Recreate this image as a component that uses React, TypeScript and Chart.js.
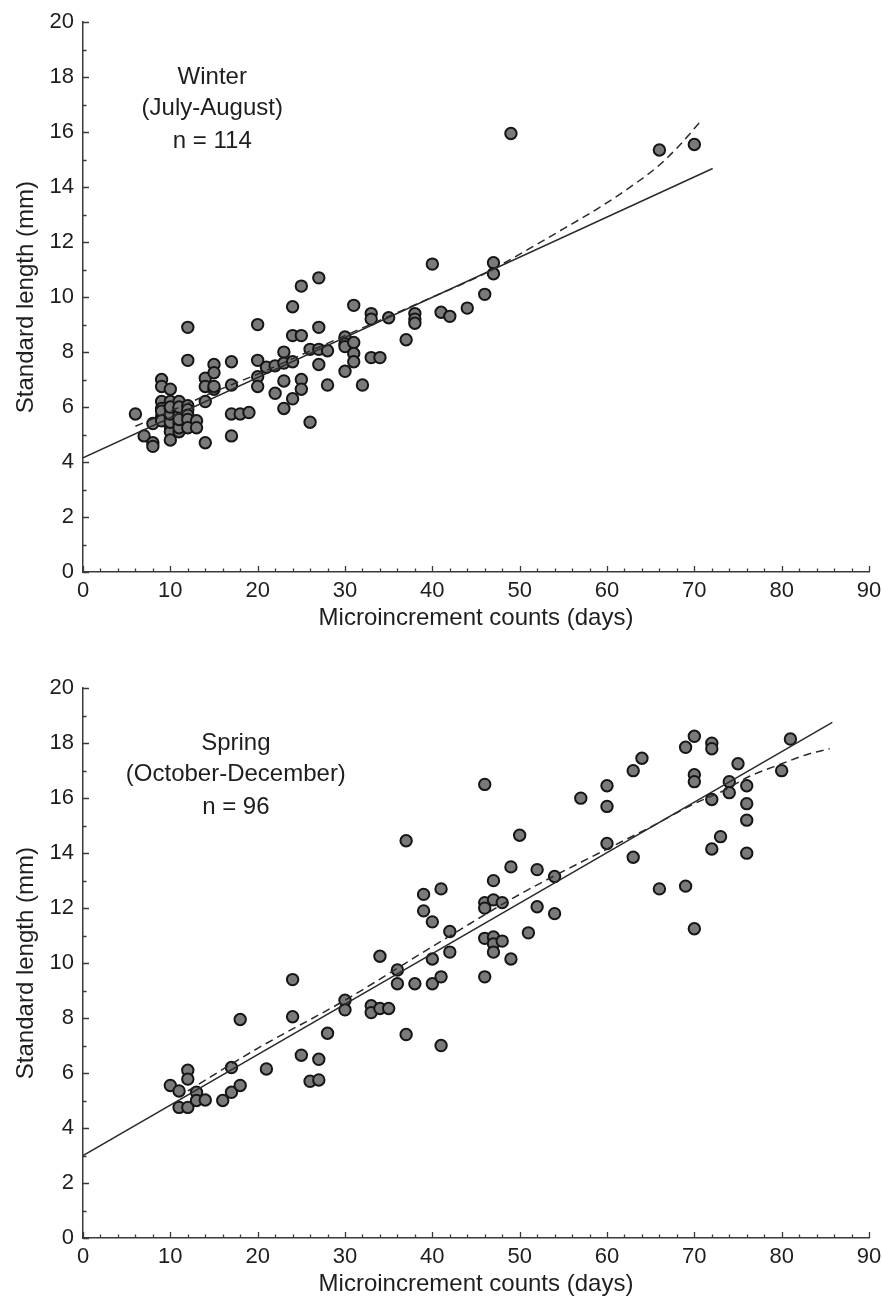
import React, { useEffect, useRef } from "react";
import { Chart, registerables } from "chart.js";

Chart.register(...registerables);

// ---------- Data ----------
const winterX = [6, 7, 8, 8, 8, 9, 9, 9, 9, 9, 9, 9, 10, 10, 10, 10, 10, 10, 10, 10, 10, 10, 11, 11, 11, 11, 11, 11, 11, 11, 12, 12, 12, 12, 12, 12, 12, 13, 13, 14, 14, 14, 14, 15, 15, 15, 15, 17, 17, 17, 17, 18, 19, 20, 20, 20, 20, 21, 22, 22, 23, 23, 23, 23, 24, 24, 24, 24, 25, 25, 25, 25, 26, 26, 27, 27, 27, 27, 28, 28, 30, 30, 30, 30, 31, 31, 31, 31, 32, 33, 33, 33, 34, 35, 37, 38, 38, 38, 40, 41, 42, 44, 46, 47, 47, 49, 66, 70];
const winterY = [5.75, 4.95, 4.7, 4.57, 5.4, 7.0, 6.75, 6.2, 5.95, 5.65, 5.85, 5.5, 6.65, 6.2, 5.95, 5.6, 5.3, 5.1, 4.8, 5.45, 5.75, 6.0, 6.2, 5.95, 5.7, 5.4, 5.1, 5.25, 5.55, 6.0, 8.9, 7.7, 6.05, 5.9, 5.7, 5.55, 5.25, 5.5, 5.25, 7.05, 6.75, 6.2, 4.7, 7.55, 7.25, 6.65, 6.75, 7.65, 6.8, 5.75, 4.95, 5.75, 5.8, 9.0, 7.7, 7.1, 6.75, 7.45, 7.5, 6.5, 8.0, 7.6, 6.95, 5.95, 9.65, 8.6, 7.65, 6.3, 10.4, 8.6, 7.0, 6.65, 8.1, 5.45, 10.7, 8.9, 8.1, 7.55, 8.05, 6.8, 8.55, 8.3, 8.2, 7.3, 9.7, 8.35, 7.95, 7.65, 6.8, 9.4, 9.2, 7.8, 7.8, 9.25, 8.45, 9.4, 9.2, 9.05, 11.2, 9.45, 9.3, 9.6, 10.1, 11.25, 10.85, 15.95, 15.35, 15.55];

const winterFitX = [0, 72.1];
const winterFitY = [4.15, 14.68];
const winterSmoothX = [6, 10, 15, 20, 25, 30, 35, 40, 45, 48, 52.4, 55.1, 57.8, 60.8, 63.1, 65.8, 68.1, 70.6];
const winterSmoothY = [5.3, 5.85, 6.55, 7.2, 7.9, 8.6, 9.3, 10.0, 10.7, 11.2, 12.0, 12.5, 13.0, 13.6, 14.1, 14.75, 15.45, 16.35];

const springX = [10, 11, 11, 12, 12, 12, 13, 13, 14, 16, 17, 17, 18, 18, 21, 24, 24, 25, 26, 27, 27, 28, 30, 30, 33, 33, 34, 35, 34, 36, 36, 37, 37, 38, 39, 39, 40, 40, 40, 41, 41, 41, 42, 42, 46, 46, 46, 46, 46, 47, 47, 47, 47, 47, 48, 48, 49, 49, 50, 51, 52, 52, 54, 54, 57, 60, 60, 60, 63, 63, 64, 66, 69, 69, 70, 70, 70, 70, 72, 72, 72, 72, 73, 74, 74, 75, 76, 76, 76, 76, 80, 81];
const springY = [5.55, 5.35, 4.75, 6.1, 5.78, 4.75, 5.3, 5.0, 5.02, 5.0, 6.2, 5.3, 7.95, 5.55, 6.15, 9.4, 8.05, 6.65, 5.7, 6.5, 5.75, 7.45, 8.65, 8.3, 8.45, 8.2, 8.35, 8.35, 10.25, 9.75, 9.25, 14.45, 7.4, 9.25, 12.5, 11.9, 11.5, 10.15, 9.25, 12.7, 9.5, 7.0, 11.15, 10.4, 16.5, 12.2, 12.0, 10.9, 9.5, 13.0, 12.3, 10.95, 10.7, 10.4, 12.2, 10.8, 13.5, 10.15, 14.65, 11.1, 13.4, 12.05, 13.15, 11.8, 16.0, 16.45, 15.7, 14.35, 17.0, 13.85, 17.45, 12.7, 17.85, 12.8, 18.25, 16.85, 16.6, 11.25, 18.0, 17.8, 15.95, 14.15, 14.6, 16.6, 16.2, 17.25, 16.45, 15.8, 15.2, 14.0, 17.0, 18.15];

const springFitX = [0, 85.8];
const springFitY = [3.0, 18.76];
const springSmoothX = [12, 20, 30, 40, 50, 60, 65, 70, 73.4, 76.1, 80, 83, 85.5];
const springSmoothY = [5.35, 6.9, 8.65, 10.6, 12.5, 14.15, 14.95, 15.8, 16.28, 16.76, 17.25, 17.6, 17.8];

const winterLabel = ["Winter", "(July-August)", "n = 114"];
const springLabel = ["Spring", "(October-December)", "n = 96"];
const labelYs = [18.0, 16.85, 15.65];

const xTitle = "Microincrement counts (days)";
const yTitle = "Standard length (mm)";

const FONT = "'Liberation Sans', Arial, sans-serif";
const INK = "#1e1e1e";

const toPts = (xs: number[], ys: number[]) => xs.map((x, i) => ({ x, y: ys[i] }));

const decorPlugin = {
  id: "decor",
  afterDraw(chart: any, _args: any, opts: any) {
    const { ctx, chartArea } = chart;
    const xs = chart.scales.x;
    const ys = chart.scales.y;
    ctx.save();
    ctx.strokeStyle = "#3a3a3a";
    ctx.lineWidth = 1.3;
    ctx.beginPath();
    for (let v = 0; v <= 90; v += 2) {
      const px = Math.round(xs.getPixelForValue(v)) + 0.5;
      const len = v % 10 === 0 ? 6 : 3.5;
      ctx.moveTo(px, chartArea.bottom);
      ctx.lineTo(px, chartArea.bottom - len);
    }
    for (let v = 0; v <= 20; v += 1) {
      const py = Math.round(ys.getPixelForValue(v)) + 0.5;
      const len = v % 2 === 0 ? 6 : 3.5;
      ctx.moveTo(chartArea.left, py);
      ctx.lineTo(chartArea.left + len, py);
    }
    ctx.stroke();
    ctx.fillStyle = INK;
    ctx.font = `24px ${FONT}`;
    ctx.textAlign = "center";
    ctx.textBaseline = "middle";
    const lx = xs.getPixelForValue(opts.labelX);
    (opts.lines as string[]).forEach((t, i) => {
      ctx.fillText(t, lx, ys.getPixelForValue(labelYs[i]));
    });
    ctx.restore();
  },
};

type PanelProps = {
  px: number[]; py: number[];
  fx: number[]; fy: number[];
  sx: number[]; sy: number[];
  lines: string[]; labelX: number;
  top: number;
};

function Panel(p: PanelProps) {
  const ref = useRef<HTMLCanvasElement | null>(null);
  useEffect(() => {
    if (!ref.current) return;
    const chart = new Chart(ref.current, {
      type: "scatter",
      data: {
        datasets: [
          {
            data: toPts(p.fx, p.fy), showLine: true, borderColor: "#2a2a2a", borderWidth: 1.5,
            pointRadius: 0, fill: false,
          } as any,
          {
            data: toPts(p.sx, p.sy), showLine: true, borderColor: "#2a2a2a", borderWidth: 1.5,
            borderDash: [8, 5], pointRadius: 0, fill: false, cubicInterpolationMode: "monotone",
          } as any,
          {
            data: toPts(p.px, p.py), backgroundColor: "#7a7a7a", borderColor: "#151515",
            borderWidth: 2, pointRadius: 5.7, showLine: false,
          } as any,
        ],
      },
      options: {
        responsive: false,
        animation: false,
        events: [],
        layout: { padding: { left: 0, right: 1, top: 20, bottom: 0 } },
        plugins: {
          legend: { display: false },
          tooltip: { enabled: false },
          decor: { lines: p.lines, labelX: p.labelX },
        } as any,
        scales: {
          x: {
            type: "linear", min: 0, max: 90,
            grid: { display: false, drawTicks: false },
            border: { display: true, color: "#3a3a3a", width: 1.5 },
            ticks: { stepSize: 10, padding: 6, color: INK, font: { family: FONT, size: 22 }, maxRotation: 0 },
            title: { display: true, text: xTitle, color: INK, font: { family: FONT, size: 24 }, padding: { top: 0, bottom: 16 } },
            afterFit: (s: any) => { s.height = 77; s.paddingRight = 13; s.paddingLeft = 0; },
          },
          y: {
            type: "linear", min: 0, max: 20,
            grid: { display: false, drawTicks: false },
            border: { display: true, color: "#3a3a3a", width: 1.5 },
            ticks: { stepSize: 2, padding: 9, color: INK, font: { family: FONT, size: 22 } },
            title: { display: true, text: yTitle, color: INK, font: { family: FONT, size: 24 }, padding: { top: 12, bottom: 0 } },
            afterFit: (s: any) => { s.width = 83; },
          },
        },
      } as any,
      plugins: [decorPlugin],
    });
    return () => chart.destroy();
  }, []);
  return (
    <canvas
      ref={ref}
      width={882}
      height={649}
      style={{ position: "absolute", left: 0, top: p.top, width: 882, height: 649 }}
    />
  );
}

export default function App() {
  return (
    <div style={{ position: "absolute", left: 0, top: 0, width: 882, height: 1315, background: "#fff" }}>
      <Panel px={winterX} py={winterY} fx={winterFitX} fy={winterFitY} sx={winterSmoothX} sy={winterSmoothY}
        lines={winterLabel} labelX={14.8} top={0} />
      <Panel px={springX} py={springY} fx={springFitX} fy={springFitY} sx={springSmoothX} sy={springSmoothY}
        lines={springLabel} labelX={17.5} top={666} />
    </div>
  );
}
